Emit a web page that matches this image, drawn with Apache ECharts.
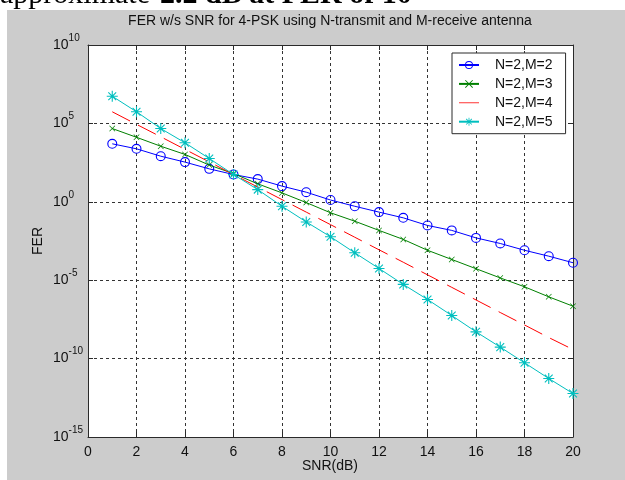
<!DOCTYPE html>
<html>
<head>
<meta charset="utf-8">
<script src="https://cdn.jsdelivr.net/npm/echarts@6/dist/echarts.min.js"></script>
<style>
html,body{margin:0;padding:0;background:#fff;}
#chart{width:625px;height:480px;}
</style>
</head>
<body>
<div id="chart"></div>
<script>
// SNR values (dB)
var snr = [1,2,3,4,5,6,7,8,9,10,11,12,13,14,15,16,17,18,19,20];
// FER values (log-scale)
var ferM2 = [5.0e3,2.4e3,8.1e2,3.4e2,1.26e2,55,28,10,4.1,1.3,0.52,0.22,0.095,0.031,0.015,5.0e-3,2.2e-3,8.1e-4,3.4e-4,1.3e-4];
var ferM3 = [4.7e4,1.3e4,3.5e3,1.05e3,2.2e2,63,14,3.7,0.89,0.20,0.058,0.015,4.0e-3,8.1e-4,2.1e-4,5.4e-5,1.4e-5,3.8e-6,8.7e-7,2.2e-7];
var ferM4 = [5.5e5,8.7e4,1.4e4,2.2e3,3.5e2,55,8.7,1.38,0.22,0.035,5.5e-3,8.7e-4,1.4e-4,2.2e-5,3.5e-6,5.5e-7,8.7e-8,1.4e-8,2.2e-9,3.8e-10];
var ferM5 = [5.4e6,5.5e5,4.7e4,5.8e3,5.8e2,55,6.0,0.52,0.052,5.9e-3,5.6e-4,5.6e-5,5.4e-6,5.9e-7,5.6e-8,5.1e-9,5.4e-10,5.4e-11,5.4e-12,5.9e-13];
var seriesNames = ['N=2,M=2','N=2,M=3','N=2,M=4','N=2,M=5'];
var xTicks = [0,2,4,6,8,10,12,14,16,18,20];
var yExponents = [-15,-10,-5,0,5,10];

function pts(arr){ return snr.map(function(x,i){ return [x, Math.log10(arr[i])]; }); }

var FONT = 'Liberation Sans, Arial, sans-serif';
var starPath = 'path://M4.5,0H5.5V10H4.5Z M0,4.5H10V5.5H0Z M1.1,1.8L1.8,1.1L8.9,8.2L8.2,8.9Z M8.2,1.1L8.9,1.8L1.8,8.9L1.1,8.2Z';
var xPath = 'path://M0,0.8L0.8,0L10,9.2L9.2,10Z M9.2,0L10,0.8L0.8,10L0,9.2Z';
var ringPath = 'path://M5,0A5,5 0 1,1 4.99,0Z M5,1.1A3.9,3.9 0 1,0 5.01,1.1Z';
var lineIcon = 'path://M0,4.6H20V5.4H0Z';

var chart = echarts.init(document.getElementById('chart'), null, {renderer:'canvas'});
var gridLine = {show:true, lineStyle:{color:'#333333', type:[3,3], width:1}};
var axisLineStyle = {color:'#2a2a2a', width:1};

chart.setOption({
  animation:false,
  backgroundColor:'#ffffff',
  graphic:[
    {type:'text', left:0, top:-20, z:0, style:{text:'approximate', font:'30px "Liberation Serif", "Times New Roman", serif', fill:'#000'}},
    {type:'text', left:160, top:-20, z:0, style:{text:'2.2 dB at FER of 10', font:'bold 30px "Liberation Serif", "Times New Roman", serif', fill:'#000'}},
    {type:'rect', shape:{x:7, y:10, width:618, height:470}, style:{fill:'#cccccc'}, z:-1, silent:true},
    {type:'text', x:330, y:21, style:{text:'FER w/s SNR for 4-PSK using N-transmit and M-receive antenna', font:'14px '+FONT, fill:'#111', align:'center', verticalAlign:'middle'}},
    {type:'text', x:330, y:466, style:{text:'SNR(dB)', font:'14px '+FONT, fill:'#111', align:'center', verticalAlign:'middle'}},
    {type:'text', x:38, y:241, rotation:Math.PI/2, style:{text:'FER', font:'14px '+FONT, fill:'#111', align:'center', verticalAlign:'middle'}}
  ],
  grid:{left:88, right:52, top:45, bottom:43, show:true, backgroundColor:'#ffffff', borderWidth:0},
  legend:{
    orient:'vertical', left:452, top:53,
    backgroundColor:'#ffffff', borderColor:'#2a2a2a', borderWidth:1,
    padding:[5,13,5,6], itemWidth:20, itemHeight:10, itemGap:4.9,
    textStyle:{fontFamily:FONT, fontSize:14, color:'#111', padding:[0,0,0,11]},
    data:[
      {name:seriesNames[0]},
      {name:seriesNames[1]},
      {name:seriesNames[2], icon:lineIcon, itemStyle:{color:'#ff0000'}},
      {name:seriesNames[3]}
    ]
  },
  xAxis:[
    {type:'value', min:0, max:20, interval:2, position:'bottom',
     axisLine:{show:true, onZero:false, lineStyle:axisLineStyle},
     axisTick:{show:true, inside:true, length:5, lineStyle:axisLineStyle},
     axisLabel:{show:true, margin:8, fontFamily:FONT, fontSize:14, color:'#111',
       formatter:function(v){ return xTicks.indexOf(v)>=0 ? String(v) : ''; }},
     splitLine:gridLine},
    {type:'value', min:0, max:20, interval:2, position:'top',
     axisLine:{show:true, onZero:false, lineStyle:axisLineStyle},
     axisTick:{show:true, inside:true, length:5, lineStyle:axisLineStyle},
     axisLabel:{show:false}, splitLine:{show:false}}
  ],
  yAxis:[
    {type:'value', min:-15, max:10, interval:5, position:'left',
     axisLine:{show:true, onZero:false, lineStyle:axisLineStyle},
     axisTick:{show:true, inside:true, length:5, lineStyle:axisLineStyle},
     axisLabel:{show:true, margin:35, align:'left', verticalAlign:'middle', color:'#111',
       formatter:function(v){ return yExponents.indexOf(v)>=0 ? '{b|10}{e|'+v+'}' : ''; },
       rich:{
         b:{fontFamily:FONT, fontSize:14, color:'#111', verticalAlign:'bottom', lineHeight:14},
         e:{fontFamily:FONT, fontSize:10, color:'#111', verticalAlign:'bottom', lineHeight:10, padding:[0,0,9,0]}
       }},
     splitLine:gridLine},
    {type:'value', min:-15, max:10, interval:5, position:'right',
     axisLine:{show:true, onZero:false, lineStyle:axisLineStyle},
     axisTick:{show:true, inside:true, length:5, lineStyle:axisLineStyle},
     axisLabel:{show:false}, splitLine:{show:false}}
  ],
  series:[
    {name:seriesNames[0], type:'line', data:pts(ferM2), symbol:ringPath, symbolSize:10,
     lineStyle:{color:'#0000ff', width:1}, itemStyle:{color:'#0000ff'}, z:3},
    {name:seriesNames[1], type:'line', data:pts(ferM3), symbol:xPath, symbolSize:6,
     lineStyle:{color:'#008000', width:1}, itemStyle:{color:'#008000'}, z:4},
    {name:seriesNames[2], type:'line', data:pts(ferM4), symbol:'none', showSymbol:false,
     lineStyle:{color:'#ff0000', width:1, type:[20,9]}, itemStyle:{color:'#ff0000'}, z:5},
    {name:seriesNames[3], type:'line', data:pts(ferM5), symbol:starPath, symbolSize:11,
     lineStyle:{color:'#00bfbf', width:1}, itemStyle:{color:'#00bfbf'}, z:6}
  ]
});
</script>
</body>
</html>
